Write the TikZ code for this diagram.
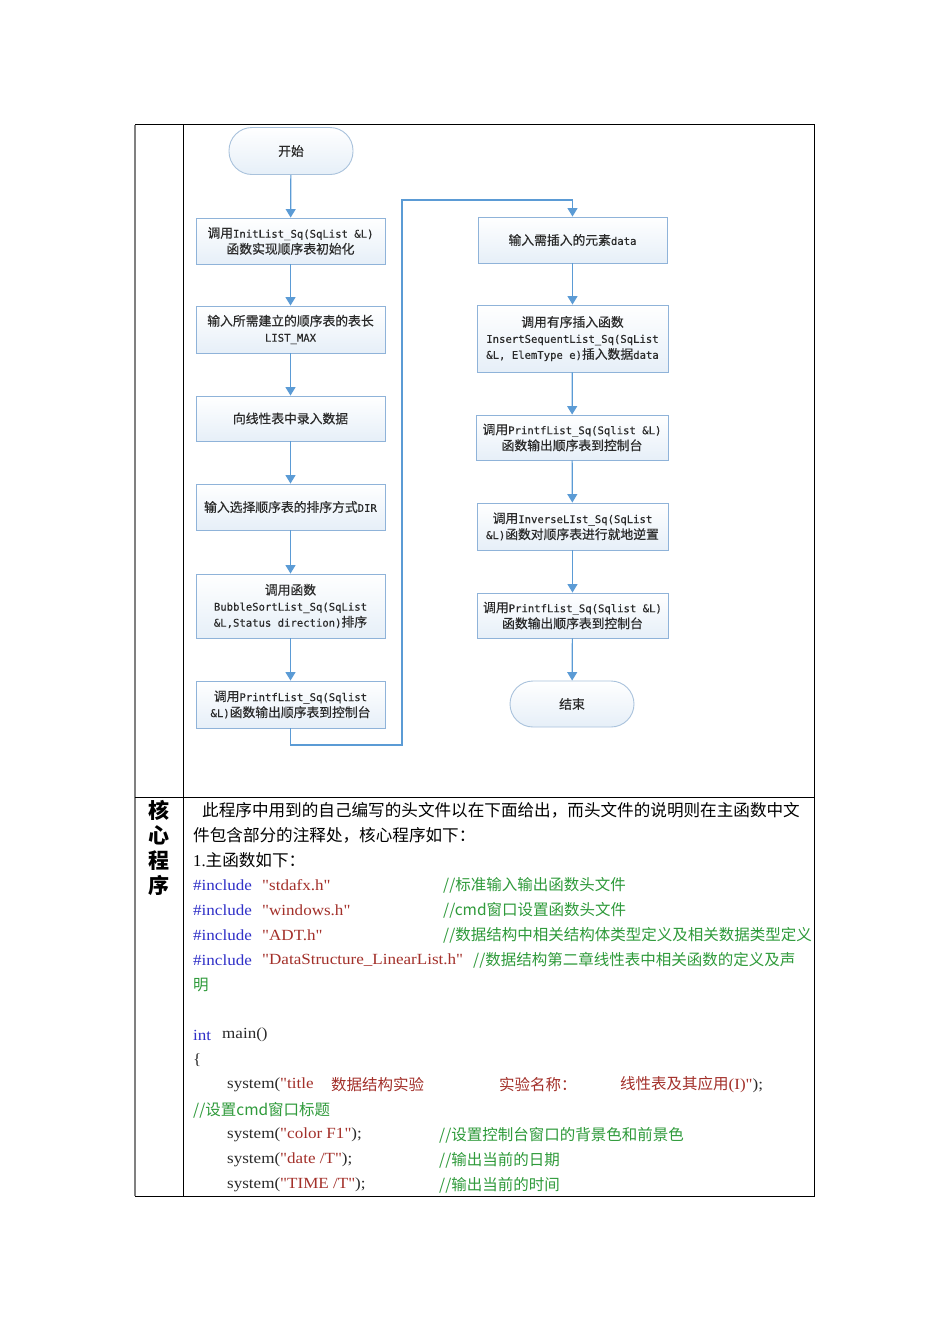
\documentclass[tikz,border=0pt]{standalone}
\usepackage{fontspec}
\setmainfont{Liberation Serif}
\newfontfamily\cjk{Noto Sans CJK SC}
\newfontfamily\cjkm{Noto Sans CJK SC}[FakeBold=0.5]
\newfontfamily\ltfont{DejaVu Sans Mono}[FakeBold=0.3]
\newfontfamily\codef{Liberation Serif}[FakeStretch=1.1]
\usetikzlibrary{arrows.meta}
\definecolor{arrowblue}{HTML}{5B9BD5}
\definecolor{boxline}{HTML}{8FB3D9}
\definecolor{termline}{HTML}{A9C2DC}
\definecolor{boxfill}{HTML}{E6EFF8}
\definecolor{kw}{HTML}{3030C8}
\definecolor{str}{HTML}{A3302A}
\definecolor{cmt}{HTML}{2E9A3A}
\definecolor{txt}{HTML}{2A2A2A}
\newcommand\cjc{\cjk\fontsize{15.5}{18}\selectfont}
\newcommand\lt[1]{{\ltfont\fontsize{10.6}{16}\selectfont #1}}
\tikzset{
  fbox/.style={draw=boxline, line width=0.9pt, top color=white, bottom color=boxfill,
    minimum width=189pt, minimum height=46pt, align=center, inner sep=2pt,
    text=txt, font=\cjkm\fontsize{12.8}{16}\selectfont},
  term/.style={draw=termline, line width=0.9pt, top color=white, bottom color=boxfill,
    rounded corners=23pt, minimum width=124pt, minimum height=47pt,
    text=txt, font=\cjkm\fontsize{12.8}{16}\selectfont},
  arr/.style={draw=arrowblue, line width=1.2pt, -{Triangle[length=8.5pt,width=10pt]}},
  code/.style={anchor=west, inner sep=0pt, text=txt, font=\codef\fontsize{15.5}{18}\selectfont},
  ccj/.style={anchor=west, inner sep=0pt, font=\cjc},
  para/.style={anchor=west, inner sep=0pt, text=black, font=\cjk\fontsize{16.6}{20}\selectfont},
  tbl/.style={draw=black, line width=0.9pt}
}
\begin{document}
\begin{tikzpicture}[x=1pt,y=-1pt]
\useasboundingbox (0,0) rectangle (950,1344);
\fill[white] (0,0) rectangle (950,1344);
% table
\draw[tbl] (135,124.5) rectangle (814.5,1196);
\draw[draw=gray, line width=1.6pt] (135,124.5) -- (135,1196);
\draw[tbl] (183.5,124.5) -- (183.5,1196);
\draw[tbl] (135,797) -- (814.5,797);
% flowchart left
\node[term] (start) at (291,151) {开始};
\node[fbox] (b1) at (290.5,241) {调用\lt{InitList\_Sq(SqList \&L)}\\函数实现顺序表初始化};
\node[fbox, minimum height=47pt] (b2) at (290.5,329.5) {输入所需建立的顺序表的表长\\\lt{LIST\_MAX}};
\node[fbox, minimum height=45pt] (b3) at (290.5,418.5) {向线性表中录入数据};
\node[fbox] (b4) at (290.5,507) {输入选择顺序表的排序方式\lt{DIR}};
\node[fbox, minimum height=64pt] (b5) at (290.5,606) {调用函数\\\lt{BubbleSortList\_Sq(SqList}\\\lt{\&L,Status direction)}排序};
\node[fbox, minimum height=47pt] (b6) at (290.5,704.5) {调用\lt{PrintfList\_Sq(Sqlist}\\\lt{\&L)}函数输出顺序表到控制台};
% flowchart right
\node[fbox] (r1) at (572.5,240) {输入需插入的元素\lt{data}};
\node[fbox, minimum width=191pt, minimum height=67pt] (r2) at (572.5,338.5) {调用有序插入函数\\\lt{InsertSequentList\_Sq(SqList}\\\lt{\&L, ElemType e)}插入数据\lt{data}};
\node[fbox, minimum width=192pt, minimum height=45pt] (r3) at (572,437.5) {调用\lt{PrintfList\_Sq(Sqlist \&L)}\\函数输出顺序表到控制台};
\node[fbox, minimum width=191pt, minimum height=47pt] (r4) at (572.5,526.5) {调用\lt{InverseLIst\_Sq(SqList}\\\lt{\&L)}函数对顺序表进行就地逆置};
\node[fbox, minimum width=191pt, minimum height=45pt] (r5) at (572.5,615.5) {调用\lt{PrintfList\_Sq(Sqlist \&L)}\\函数输出顺序表到控制台};
\node[term, minimum height=46pt] (end) at (572,704) {结束};
% connectors
\draw[arr] (start) -- (b1);
\draw[arr] (b1) -- (b2);
\draw[arr] (b2) -- (b3);
\draw[arr] (b3) -- (b4);
\draw[arr] (b4) -- (b5);
\draw[arr] (b5) -- (b6);
\coordinate (j1) at (402,745);
\coordinate (j2) at (402,200);
\draw[arr] (b6.south) |- (j1) -- (j2) -| (r1.north);
\draw[arr] (r1) -- (r2);
\draw[arr] (r2) -- (r3);
\draw[arr] (r3) -- (r4);
\draw[arr] (r4) -- (r5);
\draw[arr] (r5) -- (end);
% left label
\node[font=\cjk\bfseries\fontsize{21}{25}\selectfont, align=center, inner sep=0pt] (lab) at (159,847.5) {核\\心\\程\\序};
% paragraph
\node[para] (p1) at (202,810) {此程序中用到的自己编写的头文件以在下面给出，而头文件的说明则在主函数中文};
\node[para] (p2) at (193,835) {件包含部分的注释处，核心程序如下：};
\node[para] (p3) at (193,860) {{\rmfamily 1.}主函数如下：};
% code
\node[code, text=kw] (i1) at (193,885) {\#include};
\node[code, text=str] (s1) at (262,885) {"stdafx.h"};
\node[ccj, text=cmt] (c1) at (443,885) {//标准输入输出函数头文件};
\node[code, text=kw] (i2) at (193,910) {\#include};
\node[code, text=str] (s2) at (262,910) {"windows.h"};
\node[ccj, text=cmt] (c2) at (443,910) {//cmd窗口设置函数头文件};
\node[code, text=kw] (i3) at (193,935) {\#include};
\node[code, text=str] (s3) at (262,935) {"ADT.h"};
\node[ccj, text=cmt] (c3) at (443,935) {//数据结构中相关结构体类型定义及相关数据类型定义};
\node[code, text=kw] (i4) at (193,960) {\#include};
\node[code, text=str] (s4) at (262,960) {"DataStructure\_LinearList.h"};
\node[ccj, text=cmt] (c4) at (473,960) {//数据结构第二章线性表中相关函数的定义及声};
\node[ccj, text=cmt] (c4b) at (193,985) {明};
\node[code, text=kw] (k1) at (193,1035) {int};
\node[code] (m1) at (222,1035) {main()};
\node[code] (br) at (193,1060) {\{};
\node[code] (t1) at (227,1085) {system(\textcolor{str}{"title}};
\node[ccj, text=str] (t1b) at (331,1085) {数据结构实验};
\node[ccj, text=str] (t2) at (499,1085) {实验名称：};
\node[code] (t3) at (620,1085) {\textcolor{str}{{\cjc 线性表及其应用}(I)"});};
\node[ccj, text=cmt] (c5) at (193,1110) {//设置cmd窗口标题};
\node[code] (y1) at (227,1135) {system(\textcolor{str}{"color F1"});};
\node[ccj, text=cmt] (c6) at (439,1135) {//设置控制台窗口的背景色和前景色};
\node[code] (y2) at (227,1160) {system(\textcolor{str}{"date /T"});};
\node[ccj, text=cmt] (c7) at (439,1160) {//输出当前的日期};
\node[code] (y3) at (227,1185) {system(\textcolor{str}{"TIME /T"});};
\node[ccj, text=cmt] (c8) at (439,1185) {//输出当前的时间};
\end{tikzpicture}
\end{document}
